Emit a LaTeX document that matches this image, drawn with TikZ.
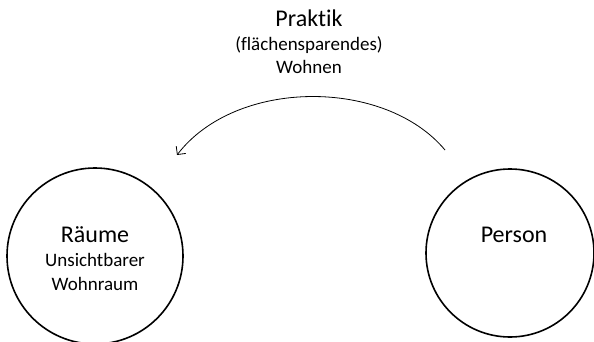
\documentclass[tikz,border=0pt]{standalone}
\usepackage{fontspec}
\setmainfont[Ligatures=NoCommon]{Carlito}
\usetikzlibrary{arrows.meta}
\tikzset{
  kreis/.style={draw, circle, line width=1.6pt, inner sep=0pt},
  titel/.style={font=\fontsize{24}{26}\selectfont, align=center, inner sep=0pt},
  untertitel/.style={font=\fontsize{19}{23.5}\selectfont, align=center, inner sep=0pt},
}
\begin{document}
\begin{tikzpicture}[x=1pt, y=-1pt]
  \useasboundingbox (0,0) rectangle (594,342);
  \clip (0,0) rectangle (594,342);
  % die beiden Kreise
  \node[kreis, minimum size=176pt] (raeume) at (95,256) {};
  \node[kreis, minimum size=168pt] (person) at (510,253) {};
  % Beschriftungen (base = letzte Zeile)
  \node[titel, anchor=base] (raeumetitel) at (95,242) {Räume};
  \node[untertitel, anchor=base] (raeumetext) at (95,290) {Unsichtbarer\\Wohnraum};
  \node[titel, anchor=base] (persontitel) at (514,242) {Person};
  \node[titel, anchor=base] (praktik) at (309,27) {Praktik};
  \node[untertitel, anchor=base] (praktiktext) at (309,74) {(flächensparendes)\\Wohnen};
  % Pfeil
  \coordinate (von) at (445,150);
  \coordinate (nach) at (177,155);
  \draw[line width=0.8pt, -{Straight Barb[length=6pt, width=12pt]}]
    (von) .. controls (385,78) and (236,78) .. (nach);
\end{tikzpicture}
\end{document}
